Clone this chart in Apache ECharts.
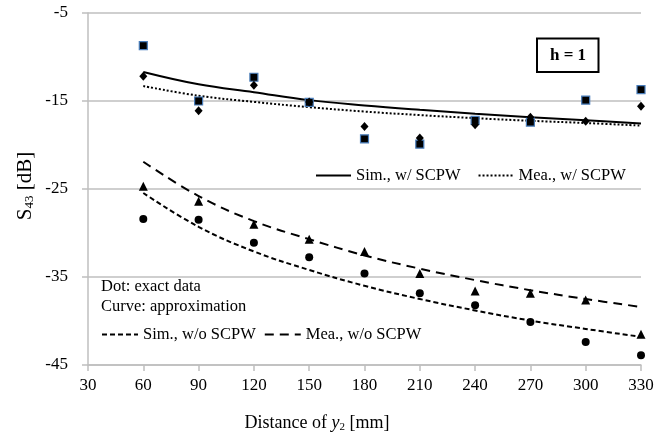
<!DOCTYPE html>
<html>
<head>
<meta charset="utf-8">
<script src="https://cdn.jsdelivr.net/npm/echarts@6/dist/echarts.min.js"></script>
<style>html,body{margin:0;padding:0;background:#fff}#c{width:671px;height:444px}</style>
</head>
<body>
<div id="c"></div>
<script>
const xValues = [60, 90, 120, 150, 180, 210, 240, 270, 300, 330];
const xTicks = [30, 60, 90, 120, 150, 180, 210, 240, 270, 300, 330];
const yTicks = [-45, -35, -25, -15, -5];

// dots: exact data
const dotsSquare   = [-8.7, -15.0, -12.3, -15.15, -19.3, -19.9, -17.2, -17.4, -14.9, -13.7];
const dotsDiamond  = [-12.2, -16.1, -13.2, -15.1, -17.9, -19.2, -17.7, -16.85, -17.3, -15.6];
const dotsTriangle = [-24.7, -26.4, -29.0, -30.7, -32.1, -34.6, -36.6, -36.85, -37.6, -41.5];
const dotsCircle   = [-28.4, -28.5, -31.1, -32.75, -34.6, -36.85, -38.2, -40.1, -42.4, -43.9];

// curves: approximation
const simWith     = [-11.7, -13.1, -14.0, -14.9, -15.5, -16.0, -16.45, -16.85, -17.2, -17.55];
const meaWith     = [-13.3, -14.4, -15.1, -15.7, -16.2, -16.6, -16.95, -17.25, -17.5, -17.8];
const simWithout  = [-25.45, -29.3, -32.1, -34.2, -36.0, -37.5, -38.8, -39.95, -40.9, -41.8];
const meaWithout  = [-21.9, -25.8, -28.65, -30.7, -32.55, -34.05, -35.35, -36.5, -37.5, -38.4];

const pair = arr => xValues.map((x, i) => [x, arr[i]]);
const FONT = 'Liberation Serif';

const chart = echarts.init(document.getElementById('c'));

function curve(name, data, type) {
  return {
    name: name, type: 'line', data: pair(data), smooth: 0.4,
    symbol: 'none', showSymbol: false, symbolSize: 0,
    lineStyle: { color: '#000', width: 2, type: type },
    itemStyle: { color: '#000' }, z: 3
  };
}
function dots(data, symbol, size, itemStyle) {
  return {
    type: 'scatter', data: pair(data), symbol: symbol, symbolSize: size,
    itemStyle: Object.assign({ opacity: 1 }, itemStyle), z: 4, silent: true
  };
}

chart.setOption({
  animation: false,
  backgroundColor: '#fff',
  textStyle: { fontFamily: FONT },
  grid: { left: 88, right: 30, top: 13, bottom: 79, containLabel: false },
  xAxis: {
    type: 'value', min: xTicks[0], max: xTicks[xTicks.length - 1], interval: 30,
    axisLine: { show: true, lineStyle: { color: '#bfbfbf', width: 1.5 } },
    axisTick: { show: true, length: 6, lineStyle: { color: '#bfbfbf', width: 1.5 } },
    splitLine: { show: false },
    axisLabel: { color: '#000', fontSize: 17, fontFamily: FONT, margin: 12 }
  },
  yAxis: {
    type: 'value', min: yTicks[0], max: yTicks[yTicks.length - 1], interval: 10,
    axisLine: { show: true, lineStyle: { color: '#bfbfbf', width: 1.5 } },
    axisTick: { show: true, length: 6, lineStyle: { color: '#bfbfbf', width: 1.5 } },
    splitLine: { show: true, lineStyle: { color: '#bfbfbf', width: 1.5 } },
    axisLabel: { color: '#000', fontSize: 17, fontFamily: FONT, margin: 20 }
  },
  legend: [
    {
      data: ['Sim., w/ SCPW', 'Mea., w/ SCPW'],
      left: 315, top: 167, orient: 'horizontal', padding: 0,
      itemWidth: 35, itemHeight: 14, itemGap: 17,
      itemStyle: { opacity: 0 },
      textStyle: { color: '#000', fontSize: 16.5, fontFamily: FONT }
    },
    {
      data: ['Sim., w/o SCPW', 'Mea., w/o SCPW'],
      left: 101, top: 326, orient: 'horizontal', padding: 0,
      itemWidth: 36, itemHeight: 14, itemGap: 8,
      itemStyle: { opacity: 0 },
      textStyle: { color: '#000', fontSize: 16.5, fontFamily: FONT }
    }
  ],
  graphic: [
    {
      type: 'text', left: 101, top: 278,
      style: { text: 'Dot: exact data', font: '16.5px "Liberation Serif"', fill: '#000' }
    },
    {
      type: 'text', left: 101, top: 298,
      style: { text: 'Curve: approximation', font: '16.5px "Liberation Serif"', fill: '#000' }
    },
    {
      type: 'rect', shape: { x: 537, y: 38.5, width: 61.5, height: 33.5 },
      style: { fill: '#fff', stroke: '#000', lineWidth: 2 }, z: 10
    },
    {
      type: 'text', x: 568, y: 55.5, z: 11,
      style: { text: 'h = 1', font: 'bold 17px "Liberation Serif"', fill: '#000', align: 'center', verticalAlign: 'middle' }
    },
    {
      type: 'text', x: 317, y: 423,
      style: {
        text: '{a|Distance of }{i|y}{s|2}{a| [mm]}', align: 'center', verticalAlign: 'middle',
        rich: {
          a: { fontSize: 18, fontFamily: FONT, fill: '#000' },
          i: { fontSize: 18, fontFamily: FONT, fontStyle: 'italic', fill: '#000' },
          s: { fontSize: 11, fontFamily: FONT, fill: '#000', padding: [8, 0, 0, 0] }
        }
      }
    },
    {
      type: 'text', x: 25, y: 186, rotation: Math.PI / 2,
      style: {
        text: '{a|S}{s|43}{a| [dB]}', align: 'center', verticalAlign: 'middle',
        rich: {
          a: { fontSize: 21, fontFamily: FONT, fill: '#000' },
          s: { fontSize: 13, fontFamily: FONT, fill: '#000', padding: [10, 0, 0, 0] }
        }
      }
    }
  ],
  series: [
    curve('Sim., w/ SCPW', simWith, 'solid'),
    curve('Mea., w/ SCPW', meaWith, [2, 2]),
    curve('Sim., w/o SCPW', simWithout, [5, 3]),
    curve('Mea., w/o SCPW', meaWithout, [9, 6]),
    dots(dotsSquare, 'rect', 8, { color: '#000', borderColor: '#4a7ebb', borderWidth: 1.2 }),
    dots(dotsDiamond, 'diamond', [8, 9], { color: '#000' }),
    dots(dotsTriangle, 'triangle', 9, { color: '#000' }),
    dots(dotsCircle, 'circle', 8, { color: '#000' })
  ]
});
</script>
</body>
</html>
